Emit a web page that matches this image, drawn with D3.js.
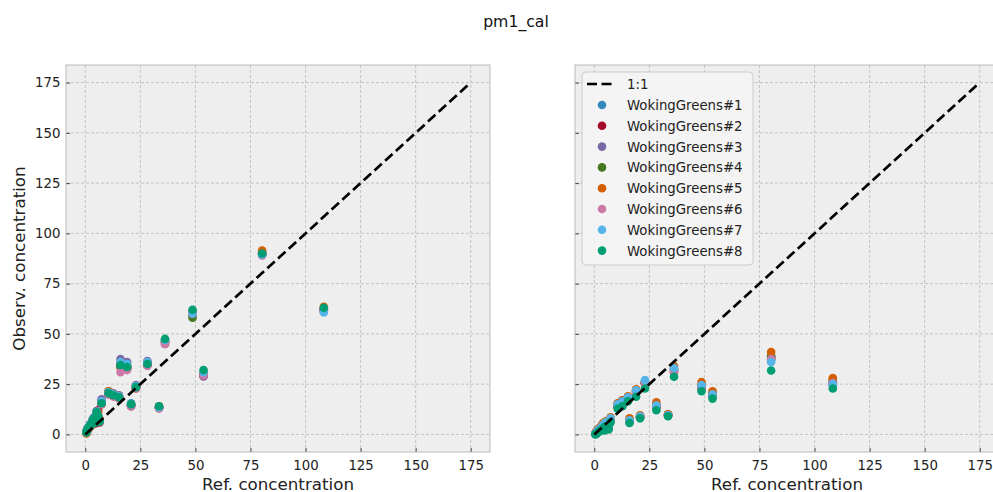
<!DOCTYPE html>
<html>
<head>
<meta charset="utf-8">
<script src="https://cdn.jsdelivr.net/npm/d3@7"></script>
<style>
  html, body { margin: 0; padding: 0; background: #ffffff; }
  svg { display: block; font-family: "DejaVu Sans", sans-serif; }
</style>
</head>
<body>
<svg id="chart" width="993" height="492"></svg>
<script>
// reference concentrations shared by every sensor
const refConc = [0.5, 1.0, 1.6, 2.2, 2.8, 3.4, 4.0, 4.6, 5.2, 5.8, 6.5, 7.4, 10.6, 12.8, 15.3, 16.0, 19.0, 20.8, 23.0, 28.2, 33.5, 36.2, 48.7, 53.7, 80.3, 108.3];

const sensorNames = ["WokingGreens#1", "WokingGreens#2", "WokingGreens#3", "WokingGreens#4",
                     "WokingGreens#5", "WokingGreens#6", "WokingGreens#7", "WokingGreens#8"];
const sensorColors = ["#348ABD", "#A60628", "#7A68A6", "#467821", "#D55E00", "#CC79A7", "#56B4E9", "#009E73"];

// left panel: observed concentration per sensor
const leftObs1 = [1.5, 2.8, 3.8, 5.0, 5.5, 7.5, 8.5, 6.5, 11.5, 9.5, 7.0, 16.5, 21.0, 20.0, 19.0, 35.5, 34.5, 15.5, 24.0, 36.0, 13.5, 46.5, 60.5, 30.5, 89.5, 62.0];
const leftObs2 = [0.8, 2.0, 3.2, 4.2, 4.8, 6.8, 7.5, 5.5, 10.5, 12.0, 6.0, 15.0, 20.0, 19.0, 18.0, 33.5, 33.0, 14.0, 23.0, 34.5, 13.0, 46.0, 59.5, 29.0, 90.5, 62.5];
const leftObs3 = [1.2, 2.6, 3.6, 4.8, 5.5, 7.2, 8.2, 6.2, 11.5, 9.5, 6.8, 17.5, 21.0, 20.5, 19.5, 37.5, 36.0, 14.5, 24.5, 36.5, 13.5, 45.0, 60.0, 29.0, 89.5, 61.5];
const leftObs4 = [1.0, 2.4, 3.4, 4.4, 5.0, 6.8, 7.8, 6.0, 10.8, 9.0, 6.5, 16.0, 21.5, 19.5, 18.5, 34.0, 33.0, 14.5, 23.5, 35.0, 13.5, 46.0, 58.0, 30.0, 90.0, 62.0];
const leftObs5 = [0.5, 2.2, 3.0, 4.0, 4.5, 6.5, 7.5, 7.5, 11.0, 11.0, 7.5, 16.0, 21.5, 20.0, 19.0, 35.0, 34.0, 15.0, 23.0, 35.5, 14.0, 47.0, 61.0, 30.5, 91.5, 63.5];
const leftObs6 = [1.0, 2.5, 3.5, 4.5, 5.0, 7.0, 8.0, 6.0, 11.0, 9.0, 6.5, 15.0, 20.0, 19.0, 18.0, 31.0, 32.0, 14.0, 23.0, 34.0, 13.0, 45.0, 60.0, 29.5, 89.0, 61.5];
const leftObs7 = [1.2, 2.6, 3.6, 4.6, 5.2, 7.2, 8.2, 6.2, 11.2, 9.2, 6.8, 16.5, 21.0, 20.0, 19.0, 36.0, 35.0, 15.0, 24.0, 36.0, 13.5, 47.0, 60.0, 31.0, 89.5, 60.7];
const leftObs8 = [1.0, 2.5, 3.5, 4.5, 5.0, 7.0, 8.0, 6.0, 11.0, 9.0, 6.5, 15.5, 20.5, 19.5, 18.5, 34.5, 33.5, 15.0, 23.5, 35.0, 14.0, 47.5, 62.0, 32.0, 90.0, 63.0];

// right panel: observed concentration per sensor
const rightObs1 = [0.2, 0.8, 1.8, 2.3, 2.8, 3.5, 4.5, 3.0, 5.5, 4.5, 3.0, 7.5, 14.5, 16.0, 18.0, 6.8, 21.5, 8.8, 26.0, 14.0, 9.5, 32.0, 23.5, 19.5, 37.0, 24.5];
const rightObs2 = [0.2, 0.8, 1.5, 2.0, 2.5, 3.2, 4.0, 2.8, 5.0, 4.2, 3.0, 7.0, 14.0, 15.5, 17.5, 6.5, 21.0, 8.5, 25.5, 13.5, 9.5, 31.0, 23.0, 19.0, 38.0, 26.0];
const rightObs3 = [0.3, 1.0, 2.0, 2.5, 3.0, 3.8, 4.5, 3.2, 5.8, 4.8, 3.2, 7.5, 14.5, 17.0, 18.5, 7.0, 22.0, 9.0, 26.0, 14.0, 9.5, 32.5, 24.0, 20.0, 38.5, 26.5];
const rightObs4 = [0.3, 1.0, 1.8, 2.4, 2.8, 3.5, 4.4, 3.0, 5.5, 4.6, 3.0, 7.2, 14.2, 16.0, 18.0, 6.8, 21.5, 8.8, 25.5, 14.0, 10.0, 32.0, 24.0, 20.5, 39.0, 27.5];
const rightObs5 = [0.5, 1.5, 2.5, 3.0, 3.5, 4.5, 5.5, 4.0, 6.5, 5.5, 4.0, 8.5, 15.5, 17.0, 19.0, 8.0, 22.5, 9.5, 26.0, 16.0, 10.0, 34.0, 26.0, 21.5, 41.0, 28.0];
const rightObs6 = [0.2, 0.8, 1.6, 2.2, 2.7, 3.4, 4.2, 2.8, 5.2, 4.4, 3.0, 7.0, 14.0, 15.0, 17.5, 6.5, 21.0, 8.5, 25.5, 13.5, 9.5, 31.0, 23.0, 19.0, 37.5, 25.5];
const rightObs7 = [0.3, 1.0, 2.0, 2.5, 3.0, 3.8, 4.8, 3.2, 6.0, 5.0, 3.5, 8.0, 15.0, 16.5, 18.5, 7.0, 22.0, 9.0, 27.0, 14.5, 9.5, 33.0, 24.5, 20.0, 36.0, 25.0];
const rightObs8 = [0.0, 0.3, 0.8, 1.5, 1.8, 2.2, 3.0, 2.0, 4.0, 3.5, 2.5, 6.0, 12.8, 14.0, 16.5, 5.7, 18.7, 8.0, 22.8, 12.0, 9.0, 28.7, 21.5, 17.8, 31.8, 22.8];

const tickValues = [0, 25, 50, 75, 100, 125, 150, 175];
const identityLine = [0, 175];

const leftObs = [leftObs1, leftObs2, leftObs3, leftObs4, leftObs5, leftObs6, leftObs7, leftObs8];
const rightObs = [rightObs1, rightObs2, rightObs3, rightObs4, rightObs5, rightObs6, rightObs7, rightObs8];

const svg = d3.select("#chart");
const panelW = 424, panelH = 387, panelTop = 65;

svg.append("text")
  .attr("x", 516).attr("y", 27)
  .attr("text-anchor", "middle")
  .attr("font-size", 15.7)
  .attr("fill", "#111")
  .text("pm1_cal");

const drawPanel = (left, obs, showYLabels, showLegend) => {
  const x = d3.scaleLinear().domain([-8.75, 183.75]).range([0, panelW]);
  const y = d3.scaleLinear().domain([-8.75, 183.75]).range([panelH, 0]);

  const g = svg.append("g").attr("transform", `translate(${left},${panelTop})`);

  g.append("rect")
    .attr("width", panelW).attr("height", panelH)
    .attr("fill", "#eeeeee");

  // grid
  g.append("g").selectAll("line")
    .data(tickValues)
    .enter().append("line")
    .attr("x1", d => x(d)).attr("x2", d => x(d))
    .attr("y1", 0).attr("y2", panelH)
    .attr("stroke", "#b2b2b2").attr("stroke-width", 0.7)
    .attr("stroke-dasharray", "3,2");
  g.append("g").selectAll("line")
    .data(tickValues)
    .enter().append("line")
    .attr("y1", d => y(d)).attr("y2", d => y(d))
    .attr("x1", 0).attr("x2", panelW)
    .attr("stroke", "#b2b2b2").attr("stroke-width", 0.7)
    .attr("stroke-dasharray", "3,2");

  // axes (ticks point inward)
  const xAxis = g.append("g")
    .attr("transform", `translate(0,${panelH})`)
    .call(d3.axisBottom(x).tickValues(tickValues).tickSize(-4).tickPadding(8.5));
  const yAxis = g.append("g")
    .call(d3.axisLeft(y).tickValues(tickValues).tickSize(-4).tickPadding(5.5)
      .tickFormat(showYLabels ? d3.format("d") : () => ""));
  [xAxis, yAxis].forEach(a => {
    a.select(".domain").remove();
    a.selectAll(".tick line").attr("stroke", "#444");
    a.selectAll(".tick text")
      .attr("font-size", 13.3)
      .attr("font-family", "DejaVu Sans, sans-serif")
      .attr("fill", "#222");
  });

  // frame
  g.append("rect")
    .attr("width", panelW).attr("height", panelH)
    .attr("fill", "none").attr("stroke", "#bcbcbc").attr("stroke-width", 1);

  // points, one series after another
  obs.forEach((series, i) => {
    g.append("g").selectAll("circle")
      .data(series.map((v, j) => [refConc[j], v]))
      .enter().append("circle")
      .attr("cx", d => x(d[0]))
      .attr("cy", d => y(d[1]))
      .attr("r", 4.3)
      .attr("fill", sensorColors[i]);
  });

  // 1:1 line
  g.append("line")
    .attr("x1", x(identityLine[0])).attr("y1", y(identityLine[0]))
    .attr("x2", x(identityLine[1])).attr("y2", y(identityLine[1]))
    .attr("stroke", "#000").attr("stroke-width", 2.7)
    .attr("stroke-dasharray", "10,4.5");

  g.append("text")
    .attr("x", panelW / 2).attr("y", panelH + 37.5)
    .attr("text-anchor", "middle")
    .attr("font-size", 16.7)
    .attr("fill", "#222")
    .text("Ref. concentration");

  if (showYLabels) {
    g.append("text")
      .attr("transform", `translate(${-41},${panelH / 2}) rotate(-90)`)
      .attr("text-anchor", "middle")
      .attr("font-size", 16.7)
      .attr("fill", "#222")
      .text("Observ. concentration");
  }

  if (showLegend) {
    const lg = g.append("g").attr("transform", "translate(7,7)");
    lg.append("rect")
      .attr("width", 171).attr("height", 193)
      .attr("rx", 4)
      .attr("fill", "#f4f4f4").attr("fill-opacity", 0.9)
      .attr("stroke", "#cccccc");
    lg.append("line")
      .attr("x1", 5).attr("x2", 31).attr("y1", 12).attr("y2", 12)
      .attr("stroke", "#000").attr("stroke-width", 2.7)
      .attr("stroke-dasharray", "10,4.5");
    lg.append("text")
      .attr("x", 45).attr("y", 17)
      .attr("font-size", 13.3).attr("fill", "#222")
      .text("1:1");
    const rows = lg.selectAll(".entry")
      .data(sensorNames)
      .enter().append("g")
      .attr("class", "entry")
      .attr("transform", (d, i) => `translate(0,${33 + i * 20.8})`);
    rows.append("circle")
      .attr("cx", 20).attr("cy", 0).attr("r", 4.3)
      .attr("fill", (d, i) => sensorColors[i]);
    rows.append("text")
      .attr("x", 45).attr("y", 5)
      .attr("font-size", 13.3).attr("fill", "#222")
      .text(d => d);
  }
};

drawPanel(66, leftObs, true, false);
drawPanel(575, rightObs, false, true);
</script>
</body>
</html>
